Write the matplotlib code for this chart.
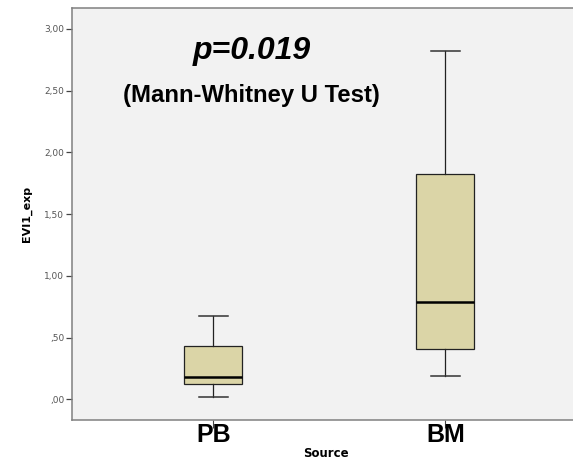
import matplotlib.pyplot as plt
from matplotlib.ticker import FuncFormatter

groups = ["PB", "BM"]
whislo = [0.02, 0.19]
q1 = [0.12, 0.405]
med = [0.18, 0.785]
q3 = [0.43, 1.825]
whishi = [0.675, 2.82]

yticks = [0.0, 0.5, 1.0, 1.5, 2.0, 2.5, 3.0]

def spss_fmt(v, pos):
    s = "%.2f" % v
    s = s.replace(".", ",")
    if s.startswith("0,"):
        s = s[1:]
    return s

H = 461
fig = plt.figure(figsize=(5.73, 4.61), dpi=100)
ax = fig.add_axes([72/573, 1 - 420/H, (580 - 72)/573, (420 - 8)/H])
ax.set_facecolor("#f2f2f2")

stats = []
for i in range(len(groups)):
    stats.append(dict(label=groups[i], whislo=whislo[i], q1=q1[i], med=med[i],
                      q3=q3[i], whishi=whishi[i], fliers=[]))

ax.bxp(stats, positions=[1, 2], widths=0.25, capwidths=0.125, patch_artist=True,
       showfliers=False,
       boxprops=dict(facecolor="#dbd5a7", edgecolor="#222222", linewidth=0.9),
       medianprops=dict(color="black", linewidth=1.8),
       whiskerprops=dict(color="#222222", linewidth=0.9),
       capprops=dict(color="#333333", linewidth=1.1))

ax.set_xlim(0.391, 2.58)
ax.set_ylim(-0.168, 3.17)
ax.set_yticks(yticks)
ax.yaxis.set_major_formatter(FuncFormatter(spss_fmt))

for s in ["left", "bottom", "top"]:
    ax.spines[s].set_color("#808080")
    ax.spines[s].set_linewidth(1.1)
ax.spines["right"].set_visible(False)

ax.tick_params(axis="y", length=4.5, width=0.9, color="#444444", labelsize=6.5,
               labelcolor="#555555", pad=1)
ax.tick_params(axis="x", length=6, width=0.8, color="#444444", pad=-4)
ax.set_xticks([1, 2])
ax.set_xticklabels(groups, fontsize=18, fontweight="bold", family="Liberation Sans")

ax.set_xlabel("Source", fontsize=8.5, fontweight="bold", labelpad=0)
ax.set_ylabel("EVI1_exp", fontsize=8, fontweight="bold", labelpad=9)

# annotation placed in pixel coordinates (origin bottom-left)
ax.text(252, H - 59, "p=0.019", transform=None, fontsize=23, fontweight="bold",
        fontstyle="italic", family="Liberation Sans", ha="center", va="baseline")
ax.text(251.5, H - 102, "(Mann-Whitney U Test)", transform=None, fontsize=17.2,
        fontweight="bold", family="Liberation Sans", ha="center", va="baseline")

fig.savefig("out.png", dpi=100)
